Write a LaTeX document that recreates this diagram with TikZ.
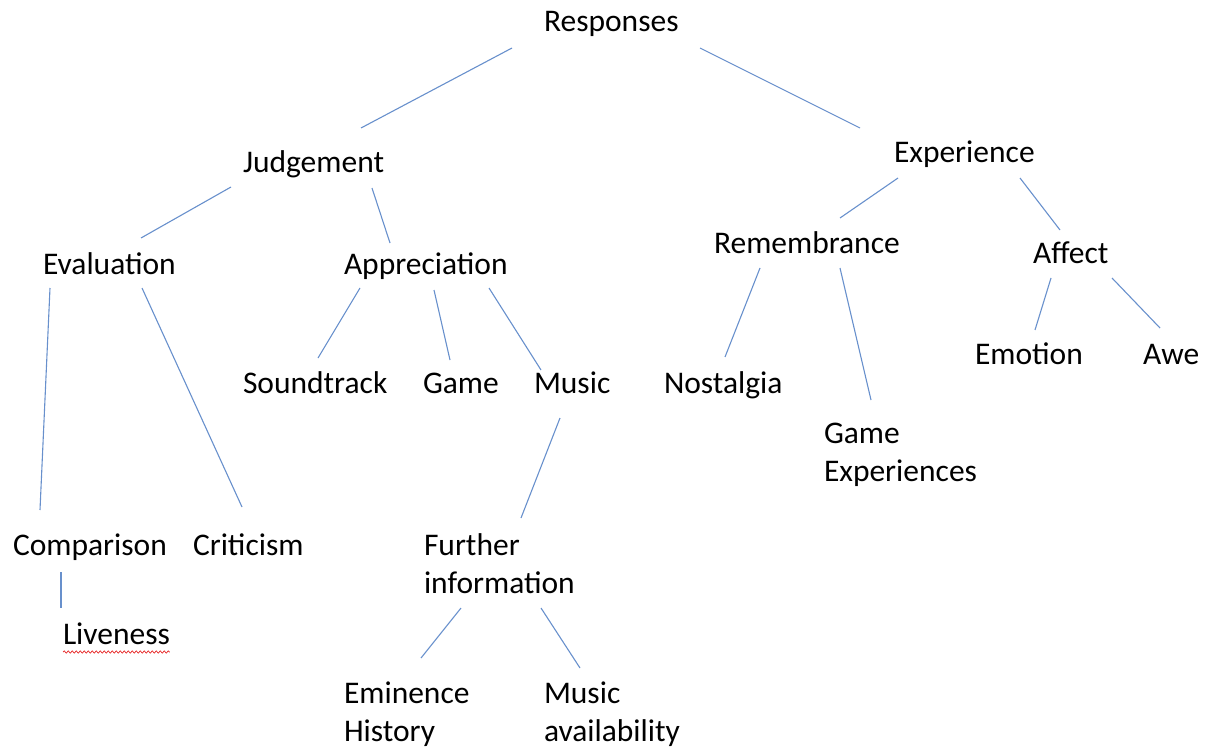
\documentclass[tikz,border=0pt]{standalone}
\usepackage{fontspec}
\setmainfont{Carlito}
\usetikzlibrary{decorations.pathmorphing}
\definecolor{linkblue}{RGB}{104,144,204}
\definecolor{spellred}{RGB}{230,40,40}
% two stacked lines whose baseline is that of the first line
\newcommand{\twolines}[2]{\vtop{\baselineskip=38.5pt\hbox{#1}\hbox{#2}}}
\tikzset{
  label/.style={anchor=base west, inner sep=0pt, outer sep=0pt,
    font=\fontsize{31.5}{38.5}\selectfont, text=black},
  link/.style={draw=linkblue, line width=1.1pt},
  squiggle/.style={draw=spellred, line width=0.7pt, decorate,
    decoration={snake, amplitude=1.1pt, segment length=4pt}}
}
\begin{document}
\begin{tikzpicture}[x=1pt, y=-1pt]
\useasboundingbox (0,0) rectangle (1210,749);

% labels, placed by their first baseline
\node[label] (resp) at (544,32)  {Responses};
\node[label] (judg) at (243,172) {Judgement};
\node[label] (expe) at (894,163) {Experience};
\node[label] (eval) at (43,274)  {Evaluation};
\node[label] (appr) at (344,274) {Appreciation};
\node[label] (reme) at (714,253) {Remembrance};
\node[label] (affe) at (1033,263) {Affect};
\node[label] (soun) at (243,393) {Soundtrack};
\node[label] (game) at (423,393) {Game};
\node[label] (musi) at (534,393) {Music};
\node[label] (nost) at (664,393) {Nostalgia};
\node[label] (emot) at (975,364) {Emotion};
\node[label] (awe)  at (1143,364) {Awe};
\node[label] (gexp) at (824,443) {\twolines{Game}{Experiences}};
\node[label] (comp) at (13,555)  {Comparison};
\node[label] (crit) at (193,555) {Criticism};
\node[label] (furt) at (424,555) {\twolines{Further}{information}};
\node[label] (live) at (63,644)  {Liveness};
\node[label] (emin) at (344,703) {\twolines{Eminence}{History}};
\node[label] (mava) at (544,703) {\twolines{Music}{availability}};

% spell-check underline
\draw[squiggle] ([shift={(0,8)}]live.base west) -- ([shift={(0,8)}]live.base east);

% connectors
\draw[link] ([shift={(-32,16)}]resp.base west) -- ([shift={(118,-44)}]judg.base west);
\draw[link] ([shift={(156,16)}]resp.base west) -- ([shift={(-34,-35)}]expe.base west);
\draw[link] ([shift={(-12,15)}]judg.base west) -- ([shift={(98,-36)}]eval.base west);
\draw[link] ([shift={(129,16)}]judg.base west) -- ([shift={(46,-31)}]appr.base west);
\draw[link] ([shift={(4,15)}]expe.base west) -- ([shift={(126,-35)}]reme.base west);
\draw[link] ([shift={(126,15)}]expe.base west) -- ([shift={(27,-33)}]affe.base west);
\draw[link] ([shift={(7,14)}]eval.base west) -- ([shift={(27,-45)}]comp.base west);
\draw[link] ([shift={(99,14)}]eval.base west) -- ([shift={(49,-48)}]crit.base west);
\draw[link] ([shift={(16,14)}]appr.base west) -- ([shift={(75,-35)}]soun.base west);
\draw[link] ([shift={(90,16)}]appr.base west) -- ([shift={(27,-33)}]game.base west);
\draw[link] ([shift={(145,14)}]appr.base west) -- ([shift={(7,-23)}]musi.base west);
\draw[link] ([shift={(46,15)}]reme.base west) -- ([shift={(61,-36)}]nost.base west);
\draw[link] ([shift={(126,15)}]reme.base west) -- ([shift={(47,-43)}]gexp.base west);
\draw[link] ([shift={(18,15)}]affe.base west) -- ([shift={(60,-34)}]emot.base west);
\draw[link] ([shift={(79,15)}]affe.base west) -- ([shift={(17,-36)}]awe.base west);
\draw[link] ([shift={(48,17)}]comp.base west) -- ([shift={(-2,-36)}]live.base west);
\draw[link] ([shift={(26,25)}]musi.base west) -- ([shift={(97,-37)}]furt.base west);
\draw[link] ([shift={(37,53)}]furt.base west) -- ([shift={(77,-45)}]emin.base west);
\draw[link] ([shift={(117,53)}]furt.base west) -- ([shift={(36,-35)}]mava.base west);
\end{tikzpicture}
\end{document}
